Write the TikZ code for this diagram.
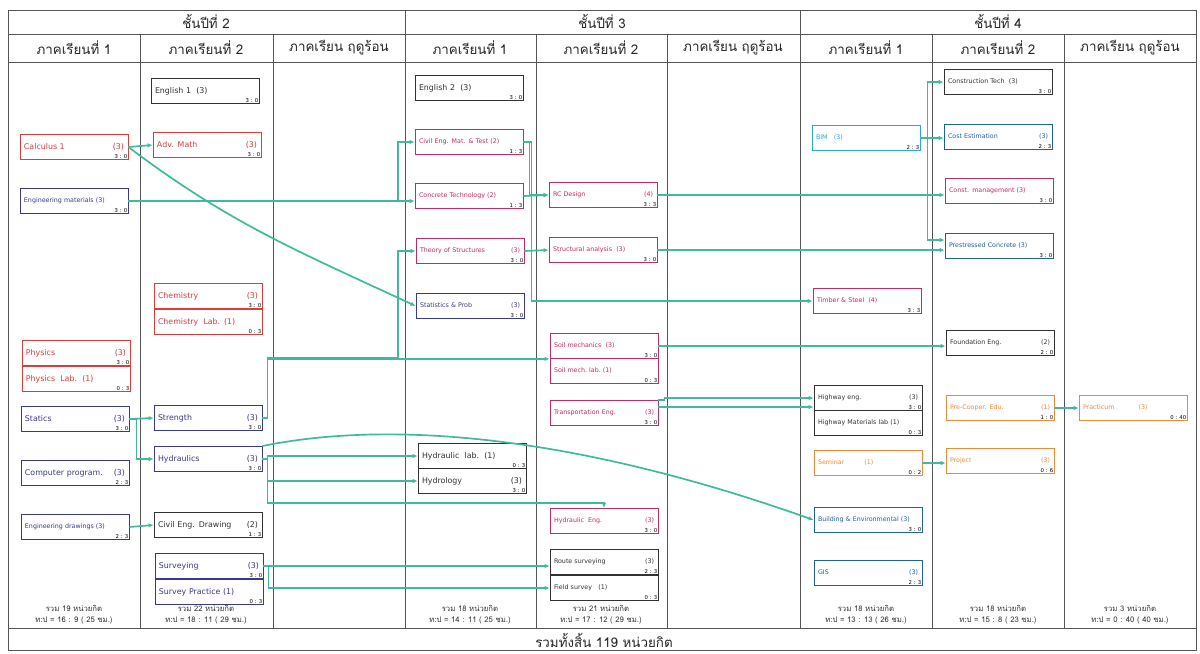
\documentclass[tikz,border=0pt]{standalone}
\usepackage{fontspec}
\setmainfont{DejaVu Sans}
\newfontfamily\thaifont[Script=Thai]{Loma}
\usepackage{tikz}
\usetikzlibrary{arrows.meta,calc,shadows}

\definecolor{crsRed}{HTML}{DE3B3B}
\definecolor{crsMag}{HTML}{C42A63}
\definecolor{crsNavy}{HTML}{3A3A8C}
\definecolor{crsBlack}{HTML}{333333}
\definecolor{crsCyan}{HTML}{2AA8D8}
\definecolor{crsBlue}{HTML}{1F5FA8}
\definecolor{crsOrange}{HTML}{F0883A}
\definecolor{linkgreen}{HTML}{3DBB9C}
\definecolor{gridgray}{HTML}{555555}

\begin{document}
\begin{tikzpicture}[x=0.25mm,y=-0.25mm,
            course box/.style={rectangle,draw=#1,text=#1,fill=white,line width=0.5pt,
                minimum height=6.3mm,text width=25mm,inner xsep=1mm,inner ysep=0.4mm,
                font=\fontsize{5.6}{6.5}\selectfont,
                drop shadow={shadow xshift=0.5pt,shadow yshift=-0.5pt,fill=black!75,opacity=0.8},
                every label/.append style={text=#1}},
            ratio/.style={anchor=south east,inner sep=0.6pt,font=\fontsize{3.8}{4}\selectfont},
            tight/.style={font=\fontsize{4.5}{5}\selectfont},
            head/.style={font=\thaifont\fontsize{9.5}{11}\selectfont,text=black!85},
            sum/.style={font=\thaifont\fontsize{5.5}{7.6}\selectfont,align=center,text=black!80},
            grid line/.style={draw=gridgray,line width=0.6pt},
            link/.style={draw=linkgreen,line width=1.2pt,-{Latex[length=3.6pt,width=3.2pt]}},
            ]
            \useasboundingbox (0,0) rectangle (1200,653);
            \fill[white] (0,0) rectangle (1200,653);

            % table frame
            \draw[grid line] (8,10) rectangle (1196,650);
            \draw[grid line] (8,34) -- (1196,34);
            \draw[grid line] (8,62) -- (1196,62);
            \draw[grid line] (8,628) -- (1196,628);
            \draw[grid line] (405,10) -- (405,628);
            \draw[grid line] (800,10) -- (800,628);
            \draw[grid line] (140,34) -- (140,628);
            \draw[grid line] (273,34) -- (273,628);
            \draw[grid line] (536,34) -- (536,628);
            \draw[grid line] (667,34) -- (667,628);
            \draw[grid line] (932,34) -- (932,628);
            \draw[grid line] (1064,34) -- (1064,628);

            % headers
            \node[head] (year2) at (206,21) {ชั้นปีที่ 2};
            \node[head] (year3) at (602,21) {ชั้นปีที่ 3};
            \node[head] (year4) at (998,21) {ชั้นปีที่ 4};
            \node[head] (sem21) at (74,48) {ภาคเรียนที่ 1};
            \node[head] (sem22) at (206,48) {ภาคเรียนที่ 2};
            \node[head] (sem2s) at (339,48) {ภาคเรียน ฤดูร้อน};
            \node[head] (sem31) at (470,48) {ภาคเรียนที่ 1};
            \node[head] (sem32) at (601,48) {ภาคเรียนที่ 2};
            \node[head] (sem3s) at (733,48) {ภาคเรียน ฤดูร้อน};
            \node[head] (sem41) at (866,48) {ภาคเรียนที่ 1};
            \node[head] (sem42) at (998,48) {ภาคเรียนที่ 2};
            \node[head] (sem4s) at (1130,48) {ภาคเรียน ฤดูร้อน};

            % year 2, semester 1
            \node[course box=crsRed,label={[ratio]south east:3 : 0}] (calc) at (74,147) {Calculus 1\hfill(3)};
            \node[course box=crsNavy,tight,label={[ratio]south east:3 : 0}] (engMat) at (74,201) {Engineering materials (3)};
            \node[course box=crsRed,label={[ratio]south east:3 : 0}] (phys) at (76,353) {Physics\hfill(3)};
            \node[course box=crsRed,label={[ratio]south east:0 : 3}] (physLab) at (76,379) {Physics\ \ Lab.\ \ (1)};
            \node[course box=crsNavy,label={[ratio]south east:3 : 0}] (statics) at (75,419) {Statics\hfill(3)};
            \node[course box=crsNavy,label={[ratio]south east:2 : 3}] (comp) at (75,473) {Computer program.\hfill(3)};
            \node[course box=crsNavy,tight,label={[ratio]south east:2 : 3}] (drawing) at (75,527) {Engineering drawings (3)};

            % year 2, semester 2
            \node[course box=crsBlack,label={[ratio]south east:3 : 0}] (eng1) at (205,91) {English 1\ \ (3)};
            \node[course box=crsRed,label={[ratio]south east:3 : 0}] (adv) at (207,145) {Adv. Math\hfill(3)};
            \node[course box=crsRed,label={[ratio]south east:3 : 0}] (chem) at (208,296) {Chemistry\hfill(3)};
            \node[course box=crsRed,label={[ratio]south east:0 : 3}] (chemLab) at (208,322) {Chemistry\ \ Lab. (1)};
            \node[course box=crsNavy,label={[ratio]south east:3 : 0}] (strength) at (208,418) {Strength\hfill(3)};
            \node[course box=crsNavy,label={[ratio]south east:3 : 0}] (hydraulics) at (208,459) {Hydraulics\hfill(3)};
            \node[course box=crsBlack,label={[ratio]south east:1 : 3}] (civDraw) at (208,525) {Civil Eng. Drawing\hfill(2)};
            \node[course box=crsNavy,label={[ratio]south east:3 : 0}] (surv) at (209,566) {Surveying\hfill(3)};
            \node[course box=crsNavy,label={[ratio]south east:0 : 3}] (survPr) at (209,592) {Survey Practice (1)};

            % year 3, semester 1
            \node[course box=crsBlack,label={[ratio]south east:3 : 0}] (eng2) at (469,88) {English 2\ \ (3)};
            \node[course box=crsMag,tight,label={[ratio]south east:1 : 3}] (matTest) at (469,142) {Civil Eng. Mat. \& Test (2)};
            \node[course box=crsMag,tight,label={[ratio]south east:1 : 3}] (concTech) at (469,196) {Concrete Technology (2)};
            \node[course box=crsMag,tight,label={[ratio]south east:3 : 0}] (theory) at (470,251) {Theory of Structures\hfill(3)};
            \node[course box=crsNavy,tight,label={[ratio]south east:3 : 0}] (stat) at (470,306) {Statistics \& Prob\hfill(3)};
            \node[course box=crsBlack,label={[ratio]south east:0 : 3}] (hLab) at (472,456) {Hydraulic\ \ lab.\ \ (1)};
            \node[course box=crsBlack,label={[ratio]south east:3 : 0}] (hydrol) at (472,481) {Hydrology\hfill(3)};

            % year 3, semester 2
            \node[course box=crsMag,tight,label={[ratio]south east:3 : 3}] (rc) at (603,195) {RC Design\hfill(4)};
            \node[course box=crsMag,tight,label={[ratio]south east:3 : 0}] (sa) at (603,250) {Structural analysis\ \ (3)};
            \node[course box=crsMag,tight,label={[ratio]south east:3 : 0}] (soil) at (604,346) {Soil mechanics\ \ (3)};
            \node[course box=crsMag,tight,label={[ratio]south east:0 : 3}] (soilLab) at (604,371) {Soil mech.\ lab.\ (1)};
            \node[course box=crsMag,tight,label={[ratio]south east:3 : 0}] (trans) at (604,413) {Transportation Eng.\hfill(3)};
            \node[course box=crsMag,tight,label={[ratio]south east:3 : 0}] (hEng) at (604,521) {Hydraulic\ \ Eng.\hfill(3)};
            \node[course box=crsBlack,tight,label={[ratio]south east:2 : 3}] (route) at (604,562) {Route surveying\hfill(3)};
            \node[course box=crsBlack,tight,label={[ratio]south east:0 : 3}] (field) at (604,588) {Field survey\ \ \ (1)};

            % year 4, semester 1
            \node[course box=crsCyan,tight,label={[ratio]south east:2 : 3}] (bim) at (866,138) {BIM\ \ \ (3)};
            \node[course box=crsMag,tight,label={[ratio]south east:3 : 3}] (timber) at (867,301) {Timber \& Steel\ \ (4)};
            \node[course box=crsBlack,tight,label={[ratio]south east:3 : 0}] (hwy) at (868,398) {Highway eng.\hfill(3)};
            \node[course box=crsBlack,tight,label={[ratio]south east:0 : 3}] (hwyLab) at (868,423) {Highway Materials lab (1)};
            \node[course box=crsOrange,tight,label={[ratio]south east:0 : 2}] (sem) at (868,463) {Seminar\hspace{5mm}(1)};
            \node[course box=crsBlue,tight,label={[ratio]south east:3 : 0}] (bldg) at (868,520) {Building \& Environmental (3)};
            \node[course box=crsBlue,tight,label={[ratio]south east:2 : 3}] (gis) at (868,573) {GIS\hfill(3)};

            % year 4, semester 2
            \node[course box=crsBlack,tight,label={[ratio]south east:3 : 0}] (ctech) at (998,82) {Construction Tech\ \ (3)};
            \node[course box=crsBlue,tight,label={[ratio]south east:2 : 3}] (cost) at (998,137) {Cost Estimation\hfill(3)};
            \node[course box=crsMag,tight,label={[ratio]south east:3 : 0}] (cmgmt) at (999,191) {Const. management (3)};
            \node[course box=crsBlue,tight,label={[ratio]south east:3 : 0}] (pre) at (999,246) {Prestressed Concrete (3)};
            \node[course box=crsBlack,tight,label={[ratio]south east:2 : 0}] (found) at (1000,343) {Foundation Eng.\hfill(2)};
            \node[course box=crsOrange,tight,label={[ratio]south east:1 : 0}] (coop) at (1000,408) {Pre-Cooper. Edu.\hfill(1)};
            \node[course box=crsOrange,tight,label={[ratio]south east:0 : 6}] (proj) at (1000,461) {Project\hfill(3)};

            % year 4, summer
            \node[course box=crsOrange,tight,label={[ratio]south east:0 : 40}] (prac) at (1133,408) {Practicum\hspace{6mm}(3)};

            % totals
            \node[sum] (sum21) at (74,615) {รวม 19 หน่วยกิต\\ท:ป = 16 : 9 ( 25 ชม.)};
            \node[sum] (sum22) at (206,615) {รวม 22 หน่วยกิต\\ท:ป = 18 : 11 ( 29 ชม.)};
            \node[sum] (sum31) at (470,615) {รวม 18 หน่วยกิต\\ท:ป = 14 : 11 ( 25 ชม.)};
            \node[sum] (sum32) at (601,615) {รวม 21 หน่วยกิต\\ท:ป = 17 : 12 ( 29 ชม.)};
            \node[sum] (sum41) at (866,615) {รวม 18 หน่วยกิต\\ท:ป = 13 : 13 ( 26 ชม.)};
            \node[sum] (sum42) at (998,615) {รวม 18 หน่วยกิต\\ท:ป = 15 : 8 ( 23 ชม.)};
            \node[sum] (sum4s) at (1130,615) {รวม 3 หน่วยกิต\\ท:ป = 0 : 40 ( 40 ชม.)};
            \node[head] (total) at (604,640) {รวมทั้งสิ้น 119 หน่วยกิต};

            % prerequisite links
            \coordinate (busA) at (398,0);
            \coordinate (jStr) at (398,358);
            \coordinate (jHE) at (604,503);
            \coordinate (tA) at ($(trans.east)+(0,-6)$);
            \coordinate (preIn) at ($(pre.west)+(0,-6)$);

            \draw[link] (calc.east) -- (adv.west);
            \draw[link] (calc.east) to[out=-37,in=155] (stat.west);
            \draw[link] (engMat.east) -- (engMat.east -| concTech.west);
            \draw[link] (engMat.east -| busA) |- (matTest.west);
            \draw[link] (statics.east) -- (strength.west);
            \draw[link] (statics.east) -- ++(7,0) |- (hydraulics.west);
            \draw[link] (drawing.east) -- (civDraw.west);
            \draw[link] (strength.east) -- ++(5,0) |- (soil.south west);
            \draw[link] (strength.east) -- ++(5,0) |- (jStr) |- (theory.west);
            \draw[link] (hydraulics.east) -- ++(5,0) |- (hLab.west);
            \draw[link] (hydraulics.east) -- ++(5,0) |- (hydrol.west);
            \draw[link] (hydraulics.east) -- ++(5,0) |- (jHE) -- (hEng.north);
            \draw[link] (hydraulics.north east) .. controls (380,422) and (560,430) .. (bldg.west);
            \draw[link] (surv.east) -- (surv.east -| route.west);
            \draw[link] (surv.east) -- ++(5,0) |- (field.west);

            \draw[link] (concTech.east) -- (rc.west);
            \draw[link] (matTest.east) -- ++(6,0) |- (rc.west);
            \draw[link] (matTest.east) -- ++(8,0) |- (timber.west);
            \draw[link] (theory.east) -- (sa.west);

            \draw[link] (rc.east) -- (rc.east -| cmgmt.west);
            \draw[link] (sa.east) -- (sa.east -| pre.west);
            \draw[link] (soil.east) -- (soil.east -| found.west);
            \draw[link] (trans.north east) -- ++(6,0) |- (hwy.west);
            \draw[link] (tA) -- (tA -| hwy.west);

            \draw[link] (bim.east) -- (bim.east -| cost.west);
            \draw[link] (bim.east) -- ++(7,0) |- (ctech.west);
            \draw[link] (bim.east) -- ++(7,0) |- (preIn);
            \draw[link] (sem.east) -- (sem.east -| proj.west);
            \draw[link] (coop.east) -- (prac.west);
        \end{tikzpicture}
\end{document}
